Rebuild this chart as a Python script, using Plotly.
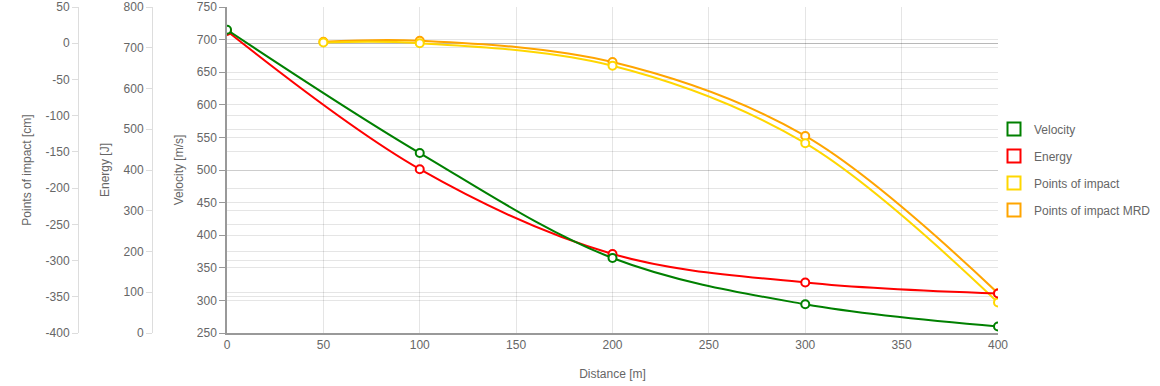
import plotly.graph_objects as go

distance = [0, 100, 200, 300, 400]
velocity = [715, 526, 365, 294, 260]
energy = [741, 402, 194, 124, 97]

poi_distance = [50, 100, 200, 300, 400]
points_of_impact = [1, 0, -31, -138, -358]
points_of_impact_mrd = [2, 3.5, -26, -128, -345]

x_ticks = [0, 50, 100, 150, 200, 250, 300, 350, 400]
vel_ticks = [250, 300, 350, 400, 450, 500, 550, 600, 650, 700, 750]
energy_ticks = [0, 100, 200, 300, 400, 500, 600, 700, 800]
poi_ticks = [-400, -350, -300, -250, -200, -150, -100, -50, 0, 50]
poi_ticktext = ["-400", "-350", "-300", "-250", "-200", "-150", "-100", "-50", "0", "50"]

names = ["Velocity", "Energy", "Points of impact", "Points of impact MRD"]
colors = ["#008000", "#ff0000", "#ffd700", "#ffa500"]

FONT = "Liberation Sans, Arial, sans-serif"
TXT = "#666666"
GRID = "rgba(0,0,0,0.10)"

W, H = 1160, 386

fig = go.Figure()

def line_trace(x, y, color, yaxis):
    return go.Scatter(
        x=x, y=y, mode="lines+markers", yaxis=yaxis, showlegend=False,
        line=dict(color=color, width=2, shape="spline", smoothing=1.0),
        marker=dict(symbol="circle", size=8, color="white", line=dict(color=color, width=2)),
        hoverinfo="x+y",
    )

# draw order: MRD, Points, Energy, Velocity (velocity on top)
fig.add_trace(line_trace(poi_distance, points_of_impact_mrd, colors[3], "y"))
fig.add_trace(line_trace(poi_distance, points_of_impact, colors[2], "y"))
fig.add_trace(line_trace(distance, energy, colors[1], "y2"))
fig.add_trace(line_trace(distance, velocity, colors[0], "y3"))

# legend entries
for i, (n, c) in enumerate(zip(names, colors)):
    fig.add_trace(go.Scatter(
        x=[None], y=[None], mode="markers", name=n, yaxis="y",
        legendgroup=n, legendrank=i + 1,
        marker=dict(symbol="square", size=13, color="white", line=dict(color=c, width=2)),
    ))

tickfont = dict(family=FONT, size=12, color=TXT)
titlefont = dict(family=FONT, size=12, color=TXT)

x0 = 227 / W
x1 = 998 / W

fig.update_layout(
    width=W, height=H,
    margin=dict(l=0, r=0, t=7, b=53),
    paper_bgcolor="white", plot_bgcolor="white",
    font=dict(family=FONT, size=12, color=TXT),
    xaxis=dict(
        domain=[x0, x1], range=[0, 400], tickvals=x_ticks,
        showgrid=True, gridcolor=GRID, gridwidth=1,
        showline=True, linecolor="#999999", linewidth=1.5,
        ticks="", zeroline=False, tickfont=tickfont,
        title=dict(text="Distance [m]", font=titlefont, standoff=18),
        anchor="y3", automargin=False,
    ),
    yaxis=dict(
        range=[-400, 50], tickvals=poi_ticks, ticktext=poi_ticktext,
        anchor="free", position=78 / W, side="left",
        showgrid=True, gridcolor=GRID, zeroline=True, zerolinecolor="rgba(0,0,0,0.28)", zerolinewidth=1,
        showline=True, linecolor="#dddddd", linewidth=1,
        ticks="outside", ticklen=6, tickcolor="#dddddd",
        tickfont=tickfont, automargin=False,
        title=dict(text="Points of impact [cm]", font=titlefont, standoff=10),
    ),
    yaxis2=dict(
        range=[0, 800], tickvals=energy_ticks,
        overlaying="y", anchor="free", position=152 / W, side="left",
        showgrid=True, gridcolor=GRID, zeroline=False,
        showline=True, linecolor="#dddddd", linewidth=1,
        ticks="outside", ticklen=6, tickcolor="#dddddd",
        tickfont=tickfont, automargin=False,
        title=dict(text="Energy [J]", font=titlefont, standoff=10),
    ),
    yaxis3=dict(
        range=[250, 750], tickvals=vel_ticks,
        overlaying="y", anchor="x", side="left",
        showgrid=True, gridcolor=GRID, zeroline=False,
        showline=True, linecolor="#999999", linewidth=1.5,
        ticks="outside", ticklen=6, tickcolor="#999999",
        tickfont=tickfont, automargin=False,
        title=dict(text="Velocity [m/s]", font=titlefont, standoff=11),
    ),
    legend=dict(
        x=994 / W, xanchor="left", y=0.67, yanchor="top",
        font=dict(family=FONT, size=12, color=TXT),
        traceorder="grouped", tracegroupgap=8, itemwidth=30,
        bgcolor="rgba(0,0,0,0)",
    ),
    showlegend=True,
)

fig.write_html(
    "out.html",
    config={"displayModeBar": False},
    post_script="document.body.style.margin='0';document.body.style.overflow='hidden';",
)
